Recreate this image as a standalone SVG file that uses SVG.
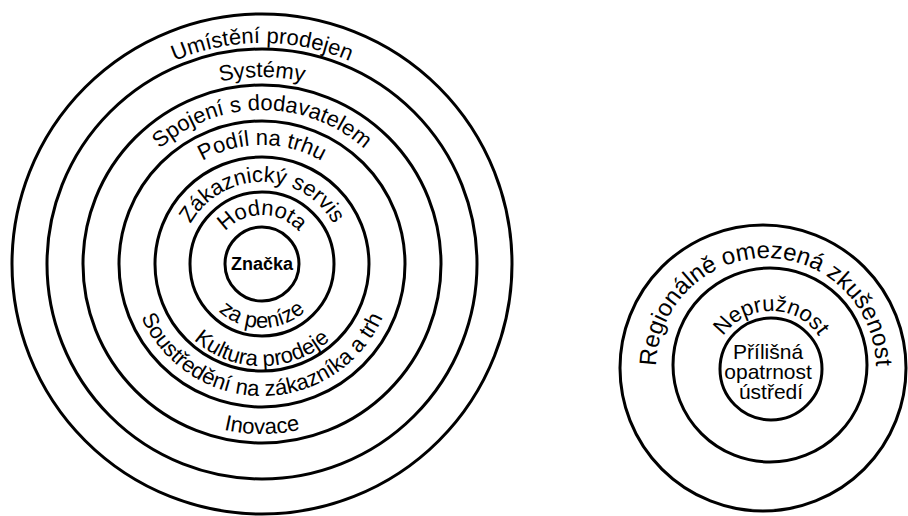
<svg xmlns="http://www.w3.org/2000/svg" xmlns:xlink="http://www.w3.org/1999/xlink" width="908" height="516" viewBox="0 0 908 516">
  <style>
    .ring { fill: none; stroke: #000; stroke-width: 3; }
    .lbl { font-family: "Liberation Sans", Arial, sans-serif; font-size: 22px; fill: #000; }
    .big { font-size: 24px; }
    .inner { font-size: 21px; }
    .bold { font-weight: bold; font-size: 18px; }
  </style>
  <defs>
    <path id="t49" d="M213,264 A49,49 0 0 1 311,264"/>
    <path id="b64" d="M198,264 A64,64 0 0 0 326,264"/>
    <path id="t82" d="M180,264 A82,82 0 0 1 344,264"/>
    <path id="b102" d="M160,264 A102,102 0 0 0 364,264"/>
    <path id="t119" d="M143,264 A119,119 0 0 1 381,264"/>
    <path id="b132" d="M130,264 A132,132 0 0 0 394,264"/>
    <path id="t154" d="M108,264 A154,154 0 0 1 416,264"/>
    <path id="b170" d="M92,264 A170,170 0 0 0 432,264"/>
    <path id="t187" d="M75,264 A187,187 0 0 1 449,264"/>
    <path id="t221" d="M41,264 A221,221 0 0 1 483,264"/>
    <path id="r110" d="M662.6,405.6 A110,110 0 1 1 869.4,405.6"/>
    <path id="r58" d="M713,369 A58,58 0 0 1 829,369"/>
  </defs>

  <g id="left-diagram">
    <g id="ring-umisteni">
      <circle class="ring" cx="262" cy="264" r="250"/>
      <text class="lbl"><textPath xlink:href="#t221" href="#t221" startOffset="50%" text-anchor="middle">Umístění prodejen</textPath></text>
    </g>
    <g id="ring-systemy">
      <circle class="ring" cx="262" cy="264" r="215"/>
      <text class="lbl"><textPath xlink:href="#t187" href="#t187" startOffset="50%" text-anchor="middle">Systémy</textPath></text>
    </g>
    <g id="ring-spojeni">
      <circle class="ring" cx="262" cy="264" r="179"/>
      <text class="lbl"><textPath xlink:href="#t154" href="#t154" startOffset="50%" text-anchor="middle">Spojení s dodavatelem</textPath></text>
      <text class="lbl"><textPath xlink:href="#b170" href="#b170" startOffset="50%" text-anchor="middle">Inovace</textPath></text>
    </g>
    <g id="ring-podil">
      <circle class="ring" cx="262" cy="264" r="143"/>
      <text class="lbl"><textPath xlink:href="#t119" href="#t119" startOffset="50%" text-anchor="middle">Podíl na trhu</textPath></text>
      <text class="lbl"><textPath xlink:href="#b132" href="#b132" startOffset="50%" text-anchor="middle">Soustředění na zákazníka a trh</textPath></text>
    </g>
    <g id="ring-zakaznicky">
      <circle class="ring" cx="262" cy="264" r="107"/>
      <text class="lbl"><textPath xlink:href="#t82" href="#t82" startOffset="50%" text-anchor="middle">Zákaznický servis</textPath></text>
      <text class="lbl"><textPath xlink:href="#b102" href="#b102" startOffset="50%" text-anchor="middle">Kultura prodeje</textPath></text>
    </g>
    <g id="ring-hodnota">
      <circle class="ring" cx="262" cy="264" r="72"/>
      <text class="lbl"><textPath xlink:href="#t49" href="#t49" startOffset="50%" text-anchor="middle">Hodnota</textPath></text>
      <text class="lbl"><textPath xlink:href="#b64" href="#b64" startOffset="50%" text-anchor="middle">za peníze</textPath></text>
    </g>
    <g id="core-znacka">
      <circle class="ring" cx="262" cy="264" r="37"/>
      <text class="lbl bold" x="262" y="270" text-anchor="middle">Značka</text>
    </g>
  </g>

  <g id="right-diagram">
    <g id="ring-regionalne">
      <circle class="ring" cx="763" cy="368" r="143"/>
      <text class="lbl big"><textPath xlink:href="#r110" href="#r110" startOffset="50%" text-anchor="middle">Regionálně omezená zkušenost</textPath></text>
    </g>
    <g id="ring-nepruznost">
      <circle class="ring" cx="770" cy="365" r="97"/>
      <text class="lbl"><textPath xlink:href="#r58" href="#r58" startOffset="50%" text-anchor="middle">Nepružnost</textPath></text>
    </g>
    <g id="core-opatrnost">
      <circle class="ring" cx="771" cy="369" r="51"/>
      <text class="lbl inner" text-anchor="middle">
        <tspan x="771" y="359">Přílišná</tspan>
        <tspan x="771" y="379">opatrnost</tspan>
        <tspan x="771" y="399">ústředí</tspan>
      </text>
    </g>
  </g>
</svg>
